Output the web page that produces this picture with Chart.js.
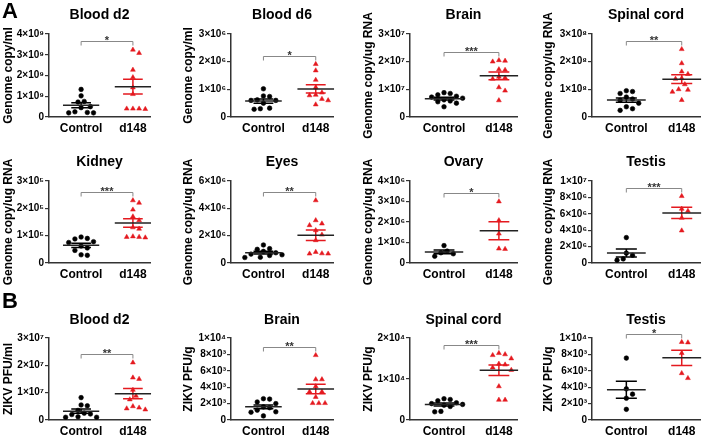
<!DOCTYPE html>
<html><head><meta charset="utf-8">
<script src="https://cdn.jsdelivr.net/npm/chart.js@4.4.1/dist/chart.umd.min.js"></script>
<style>
html,body{margin:0;padding:0;background:#fff;}
#wrap{position:relative;width:720px;height:436px;overflow:hidden;background:#fff;}
canvas{position:absolute;}
</style></head><body><div id="wrap"></div>
<script>
const categories = ["Control", "d148"];

// ---- Panel A: genome copies ----
const bloodD2Ctrl = [1.33e9, 1.02e9, 0.75e9, 0.72e9, 0.5e9, 0.45e9, 0.25e9, 0.22e9, 0.2e9, 0.2e9];
const bloodD2D148 = [3.24e9, 3.08e9, 2.27e9, 1.91e9, 1.42e9, 1.1e9, 0.4e9, 0.4e9, 0.38e9, 0.4e9];
const bloodD6Ctrl = [1.02e6, 0.76e6, 0.74e6, 0.62e6, 0.6e6, 0.6e6, 0.5e6, 0.32e6, 0.3e6, 0.28e6];
const bloodD6D148 = [1.91e6, 1.68e6, 1.34e6, 1.07e6, 0.88e6, 0.8e6, 0.78e6, 0.65e6, 0.6e6, 0.45e6];
const brainCtrl = [0.88e7, 0.85e7, 0.8e7, 0.75e7, 0.72e7, 0.68e7, 0.62e7, 0.58e7, 0.55e7, 0.5e7, 0.37e7];
const brainD148 = [2.05e7, 2.03e7, 2.0e7, 1.72e7, 1.7e7, 1.45e7, 1.42e7, 1.38e7, 1.07e7, 0.95e7, 0.6e7];
const spinalCtrl = [0.95e8, 0.92e8, 0.85e8, 0.72e8, 0.65e8, 0.6e8, 0.5e8, 0.37e8, 0.3e8, 0.24e8];
const spinalD148 = [2.45e8, 1.94e8, 1.64e8, 1.55e8, 1.4e8, 1.38e8, 1.18e8, 1.0e8, 0.98e8, 0.91e8, 0.61e8];
const kidneyCtrl = [0.95e5, 0.9e5, 0.88e5, 0.78e5, 0.75e5, 0.62e5, 0.55e5, 0.46e5, 0.3e5, 0.28e5];
const kidneyD148 = [2.29e5, 2.2e5, 1.95e5, 1.7e5, 1.56e5, 1.3e5, 1.25e5, 0.97e5, 0.95e5, 0.95e5, 0.93e5];
const eyesCtrl = [1.32e6, 1.05e6, 1.0e6, 0.85e6, 0.75e6, 0.65e6, 0.6e6, 0.55e6, 0.42e6, 0.4e6];
const eyesD148 = [4.58e6, 3.12e6, 2.88e6, 2.76e6, 2.39e6, 2.07e6, 1.66e6, 0.8e6, 0.7e6, 0.68e6, 0.68e6];
const ovaryCtrl = [0.85e6, 0.58e6, 0.5e6, 0.45e6, 0.33e6];
const ovaryD148 = [3.0e6, 2.08e6, 1.43e6, 0.7e6, 0.68e6];
const testisCtrl = [3.1e6, 1.2e6, 0.95e6, 0.5e6, 0.35e6];
const testisD148 = [8.15e6, 6.6e6, 6.35e6, 5.5e6, 3.95e6];

// ---- Panel B: PFU ----
const pfuBloodCtrl = [0.82e7, 0.55e7, 0.52e7, 0.35e7, 0.25e7, 0.22e7, 0.2e7, 0.12e7, 0.1e7, 0.1e7];
const pfuBloodD148 = [2.1e7, 1.55e7, 1.5e7, 1.1e7, 0.88e7, 0.75e7, 0.5e7, 0.45e7, 0.42e7, 0.38e7];
const pfuBrainCtrl = [2600, 2550, 2200, 2000, 1600, 1500, 1200, 1000, 950, 500];
const pfuBrainD148 = [7900, 4950, 4950, 4100, 3450, 3450, 2800, 2050, 2050, 2050];
const pfuSpinalCtrl = [5200, 5000, 4700, 4200, 4000, 3800, 3600, 3300, 2100, 2000];
const pfuSpinalD148 = [16300, 16000, 15800, 15000, 13700, 13500, 12800, 12200, 8200, 4900, 4900];
const pfuTestisCtrl = [7550, 3800, 3150, 2650, 1300];
const pfuTestisD148 = [9500, 9450, 8150, 5700, 5100];

// ---- tick labels ----
const ticks4e9 = ["0", "1×10⁹", "2×10⁹", "3×10⁹", "4×10⁹"];
const ticks3e6 = ["0", "1×10⁶", "2×10⁶", "3×10⁶"];
const ticks3e7 = ["0", "1×10⁷", "2×10⁷", "3×10⁷"];
const ticks3e8 = ["0", "1×10⁸", "2×10⁸", "3×10⁸"];
const ticks3e5 = ["0", "1×10⁵", "2×10⁵", "3×10⁵"];
const ticks6e6 = ["0", "2×10⁶", "4×10⁶", "6×10⁶"];
const ticks4e6 = ["0", "1×10⁶", "2×10⁶", "3×10⁶", "4×10⁶"];
const ticks1e7 = ["0", "2×10⁶", "4×10⁶", "6×10⁶", "8×10⁶", "1×10⁷"];
const ticks1e4 = ["0", "2×10³", "4×10³", "6×10³", "8×10³", "1×10⁴"];
const ticks2e4 = ["0", "1×10⁴", "2×10⁴"];

const panels = [
  {row:0,col:0,letter:"A",title:"Blood d2",yTitle:"Genome copy/ml",ctrl:bloodD2Ctrl,d148:bloodD2D148,yMax:4e9,yStep:1e9,tickLabels:ticks4e9,stars:"*"},
  {row:0,col:1,title:"Blood d6",yTitle:"Genome copy/ml",ctrl:bloodD6Ctrl,d148:bloodD6D148,yMax:3e6,yStep:1e6,tickLabels:ticks3e6,stars:"*"},
  {row:0,col:2,title:"Brain",yTitle:"Genome copy/ug RNA",ctrl:brainCtrl,d148:brainD148,yMax:3e7,yStep:1e7,tickLabels:ticks3e7,stars:"***"},
  {row:0,col:3,title:"Spinal cord",yTitle:"Genome copy/ug RNA",ctrl:spinalCtrl,d148:spinalD148,yMax:3e8,yStep:1e8,tickLabels:ticks3e8,stars:"**"},
  {row:1,col:0,title:"Kidney",yTitle:"Genome copy/ug RNA",ctrl:kidneyCtrl,d148:kidneyD148,yMax:3e5,yStep:1e5,tickLabels:ticks3e5,stars:"***"},
  {row:1,col:1,title:"Eyes",yTitle:"Genome copy/ug RNA",ctrl:eyesCtrl,d148:eyesD148,yMax:6e6,yStep:2e6,tickLabels:ticks6e6,stars:"**"},
  {row:1,col:2,title:"Ovary",yTitle:"Genome copy/ug RNA",ctrl:ovaryCtrl,d148:ovaryD148,yMax:4e6,yStep:1e6,tickLabels:ticks4e6,stars:"*"},
  {row:1,col:3,title:"Testis",yTitle:"Genome copy/ug RNA",ctrl:testisCtrl,d148:testisD148,yMax:1e7,yStep:2e6,tickLabels:ticks1e7,stars:"***"},
  {row:2,col:0,letter:"B",title:"Blood d2",yTitle:"ZIKV PFU/ml",ctrl:pfuBloodCtrl,d148:pfuBloodD148,yMax:3e7,yStep:1e7,tickLabels:ticks3e7,stars:"**"},
  {row:2,col:1,title:"Brain",yTitle:"ZIKV PFU/g",ctrl:pfuBrainCtrl,d148:pfuBrainD148,yMax:1e4,yStep:2e3,tickLabels:ticks1e4,stars:"**"},
  {row:2,col:2,title:"Spinal cord",yTitle:"ZIKV PFU/g",ctrl:pfuSpinalCtrl,d148:pfuSpinalD148,yMax:2e4,yStep:1e4,tickLabels:ticks2e4,stars:"***"},
  {row:2,col:3,title:"Testis",yTitle:"ZIKV PFU/g",ctrl:pfuTestisCtrl,d148:pfuTestisD148,yMax:1e4,yStep:2e3,tickLabels:ticks1e4,stars:"*"}
];

// ---- layout (not data) ----
const FONT = '"Liberation Sans", Arial, Helvetica, sans-serif';
const RED = '#e4191f';
const rows = [
  {top:0,   h:140, chartTop:34, chartBottom:117, titleY:15},
  {top:140, h:150, chartTop:41, chartBottom:123, titleY:22},
  {top:290, h:146, chartTop:48, chartBottom:130, titleY:30}
];
const cols = [
  {left:0,   axL:49, axR:150},
  {left:180, axL:51, axR:153},
  {left:360, axL:50, axR:157},
  {left:540, axL:52, axR:160}
];
const XMIN = -0.62, XMAX = 1.33, CW = 180;

Chart.defaults.font.family = FONT;

// deterministic beeswarm spread (pixel space) so overlapping points sit side by side
function swarm(values, pxPerVal, spacing) {
  const order = values.map((v, i) => i).sort((a, b) => values[b] - values[a]);
  const placed = [], off = new Array(values.length).fill(0);
  for (const i of order) {
    const py = values[i] * pxPerVal;
    for (let k = 0; k < 60; k++) {
      const cand = k === 0 ? 0 : (k % 2 ? 1 : -1) * Math.ceil(k / 2) * spacing / 2;
      if (placed.every(p => Math.hypot(p.x - cand, p.y - py) >= spacing)) {
        off[i] = cand; placed.push({x: cand, y: py}); break;
      }
    }
  }
  return off;
}

function meanSem(vals) {
  const n = vals.length, m = vals.reduce((a, b) => a + b, 0) / n;
  const sd = Math.sqrt(vals.reduce((a, b) => a + (b - m) * (b - m), 0) / (n - 1));
  return {m, se: sd / Math.sqrt(n)};
}

function overlay(p, row) {
  return {
    id: 'overlay',
    afterDatasetsDraw(chart) {
      const ctx = chart.ctx, xs = chart.scales.x, ys = chart.scales.y, ca = chart.chartArea;
      ctx.save();
      ctx.fillStyle = '#000';
      ctx.font = 'bold 14px ' + FONT;
      ctx.textAlign = 'center';
      ctx.textBaseline = 'middle';
      ctx.fillText(p.title, (ca.left + ca.right) / 2, row.titleY);
      if (p.letter) {
        ctx.font = 'bold 22px ' + FONT;
        ctx.textAlign = 'left';
        ctx.fillText(p.letter, 2, 12);
      }
      [[p.ctrl, 0, '#000'], [p.d148, 1, RED]].forEach(([vals, g, col]) => {
        const {m, se} = meanSem(vals);
        const ym = ys.getPixelForValue(m), yt = ys.getPixelForValue(m + se), yb = ys.getPixelForValue(m - se);
        const xc = xs.getPixelForValue(g), c1 = xs.getPixelForValue(g - 0.19), c2 = xs.getPixelForValue(g + 0.19);
        ctx.strokeStyle = col; ctx.lineWidth = 1.5;
        ctx.beginPath();
        ctx.moveTo(xc, yt); ctx.lineTo(xc, yb);
        ctx.moveTo(c1, yt); ctx.lineTo(c2, yt);
        ctx.moveTo(c1, yb); ctx.lineTo(c2, yb);
        ctx.stroke();
        ctx.strokeStyle = '#222'; ctx.lineWidth = 1.5;
        ctx.beginPath();
        ctx.moveTo(xs.getPixelForValue(g - 0.35), ym); ctx.lineTo(xs.getPixelForValue(g + 0.35), ym);
        ctx.stroke();
      });
      const maxV = Math.max(...p.ctrl, ...p.d148);
      const by = Math.round(ys.getPixelForValue(maxV + 0.1 * p.yMax)) + 0.5;
      const bx0 = xs.getPixelForValue(0), bx1 = xs.getPixelForValue(1);
      ctx.strokeStyle = '#888'; ctx.lineWidth = 1;
      ctx.beginPath();
      ctx.moveTo(bx0, by + 4); ctx.lineTo(bx0, by); ctx.lineTo(bx1, by); ctx.lineTo(bx1, by + 4);
      ctx.stroke();
      ctx.fillStyle = '#333';
      ctx.font = 'bold 11px ' + FONT;
      ctx.textAlign = 'center';
      ctx.textBaseline = 'alphabetic';
      ctx.fillText(p.stars, (bx0 + bx1) / 2, by + 2.5);
      ctx.restore();
    }
  };
}

const wrap = document.getElementById('wrap');
panels.forEach(p => {
  const row = rows[p.row], col = cols[p.col];
  const cv = document.createElement('canvas');
  cv.width = CW; cv.height = row.h;
  cv.style.left = col.left + 'px'; cv.style.top = row.top + 'px';
  cv.style.width = CW + 'px'; cv.style.height = row.h + 'px';
  wrap.appendChild(cv);

  const pxPerVal = (row.chartBottom - row.chartTop) / p.yMax;
  const pxPerUnit = (col.axR - col.axL) / (XMAX - XMIN);
  const oc = swarm(p.ctrl, pxPerVal, 6.2), od = swarm(p.d148, pxPerVal, 6.2);
  const ctrlPts = p.ctrl.map((v, i) => ({x: 0 + oc[i] / pxPerUnit, y: v}));
  const d148Pts = p.d148.map((v, i) => ({x: 1 + od[i] / pxPerUnit, y: v}));

  new Chart(cv, {
    type: 'scatter',
    data: {
      datasets: [
        {label: categories[0], data: ctrlPts, pointStyle: 'circle', pointRadius: 2.3, pointBorderWidth: 0.6,
         backgroundColor: '#000', borderColor: '#000'},
        {label: categories[1], data: d148Pts, pointStyle: 'triangle', pointRadius: 2.8, pointBorderWidth: 0.5,
         backgroundColor: RED, borderColor: RED}
      ]
    },
    options: {
      responsive: false, animation: false, devicePixelRatio: 1,
      layout: {padding: {left: 0, top: row.chartTop, right: CW - col.axR, bottom: 0}},
      plugins: {legend: {display: false}, tooltip: {enabled: false}, title: {display: false}},
      scales: {
        x: {
          type: 'linear', min: XMIN, max: XMAX, bounds: 'data',
          afterBuildTicks: s => { s.ticks = [{value: 0}, {value: 1}]; },
          afterFit: s => { s.height = row.h - row.chartBottom; },
          ticks: {callback: v => categories[Math.round(v)], font: {size: 12, weight: 'bold'}, color: '#000', padding: 4, maxRotation: 0, autoSkip: false},
          grid: {drawOnChartArea: false, drawTicks: false},
          border: {color: '#333', width: 1.5}
        },
        y: {
          min: 0, max: p.yMax,
          afterFit: s => { s.width = col.axL; },
          ticks: {stepSize: p.yStep, callback: v => p.tickLabels[Math.round(v / p.yStep)], font: {size: 10, weight: 'bold'}, color: '#000', padding: 1},
          grid: {drawOnChartArea: false, tickLength: 4, color: '#333', lineWidth: 1.2},
          border: {color: '#333', width: 1.5},
          title: {display: true, text: p.yTitle, font: {size: 12, weight: 'bold'}, color: '#000', padding: {top: 1, bottom: 0}}
        }
      }
    },
    plugins: [overlay(p, row)]
  });
});
</script>
</body></html>
